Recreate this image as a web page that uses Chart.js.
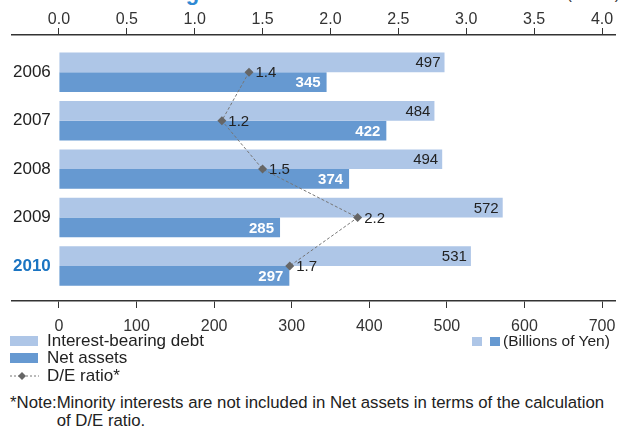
<!DOCTYPE html>
<html>
<head>
<meta charset="utf-8">
<script src="https://cdn.jsdelivr.net/npm/chart.js@4/dist/chart.umd.min.js"></script>
<style>
  body { margin: 0; width: 622px; height: 428px; overflow: hidden; position: relative; background: #fff;
         font-family: "Liberation Sans", Arial, sans-serif; color: #222; }
  #chart { position: absolute; left: 0; top: 0; }
  .title { position: absolute; left: 33px; top: -18px; font-size: 22px; line-height: 22px; font-weight: bold; color: #2f89d3; white-space: nowrap; }
  .times { position: absolute; right: 2px; top: -14px; font-size: 16px; line-height: 16px; color: #333; white-space: nowrap; }
  .lg { position: absolute; left: 47px; font-size: 17px; line-height: 18px; white-space: nowrap; }
  .sw { position: absolute; }
  .unit { position: absolute; left: 503px; top: 332px; font-size: 15.5px; line-height: 18px; white-space: nowrap; }
  .note { position: absolute; left: 10px; top: 394px; width: 610px; font-size: 16.8px; line-height: 18px; display: flex; }
  .note span { flex: none; }
  .note div { width: 552px; }
</style>
</head>
<body>
<div class="title">Interest-bearing Debt and Net Assets</div>
<div class="times">(Times)</div>
<canvas id="chart" width="622" height="348"></canvas>

<div class="sw" style="left:10px;top:336px;width:28px;height:10px;background:#aec6e7"></div>
<div class="lg" style="top:332px">Interest-bearing debt</div>
<div class="sw" style="left:10px;top:353px;width:28px;height:10px;background:#6699d1"></div>
<div class="lg" style="top:349px">Net assets</div>
<svg class="sw" style="left:10px;top:370px" width="30" height="12">
  <line x1="0" y1="6" x2="29" y2="6" stroke="#777" stroke-width="1" stroke-dasharray="2,2"/>
  <path d="M12 2 L16 6 L12 10 L8 6 Z" fill="#666"/>
</svg>
<div class="lg" style="top:367px">D/E ratio*</div>

<div class="sw" style="left:472px;top:337px;width:10px;height:9px;background:#aec6e7"></div>
<div class="sw" style="left:490px;top:337px;width:10px;height:9px;background:#6699d1"></div>
<div class="unit">(Billions of Yen)</div>

<div class="note"><span>*Note:</span><div>Minority interests are not included in Net assets in terms of the calculation of D/E ratio.</div></div>

<script>
const years       = ["2006", "2007", "2008", "2009", "2010"];
const debt        = [497, 484, 494, 572, 531];   // interest-bearing debt, billions of yen
const netAssets   = [345, 422, 374, 285, 297];
const deRatio     = [1.4, 1.2, 1.5, 2.2, 1.7];   // times
const yenTicks    = [0, 100, 200, 300, 400, 500, 600, 700];
const ratioTicks  = [0, 0.5, 1.0, 1.5, 2.0, 2.5, 3.0, 3.5, 4.0];

const LIGHT = "#aec6e7";
const DARK  = "#6699d1";
const FONT  = '"Liberation Sans", Arial, sans-serif';

Chart.defaults.font.family = FONT;
Chart.defaults.color = "#333";

// draws the numbers on the bars and next to the diamonds
const valueLabels = {
  id: "valueLabels",
  afterDatasetsDraw(chart) {
    const ctx = chart.ctx;
    ctx.save();
    ctx.textBaseline = "middle";

    ctx.textAlign = "right";
    ctx.font = "15px " + FONT;
    ctx.fillStyle = "#222";
    chart.getDatasetMeta(0).data.forEach((bar, i) => {
      ctx.fillText(debt[i], bar.x - 4, bar.y + 1);
    });

    ctx.font = "bold 15px " + FONT;
    ctx.fillStyle = "#fff";
    chart.getDatasetMeta(1).data.forEach((bar, i) => {
      ctx.fillText(netAssets[i], bar.x - 6, bar.y + 1);
    });

    ctx.textAlign = "left";
    ctx.font = "15px " + FONT;
    ctx.fillStyle = "#222";
    chart.getDatasetMeta(2).data.forEach((pt, i) => {
      ctx.fillText(deRatio[i].toFixed(1), pt.x + 6.5, pt.y + 1);
    });
    ctx.restore();
  }
};

const rows = years.map((y, i) => i);

new Chart(document.getElementById("chart"), {
  type: "bar",
  data: {
    datasets: [
      {
        label: "Interest-bearing debt",
        data: rows.map(i => ({ x: debt[i], y: i })),
        backgroundColor: LIGHT,
        categoryPercentage: 0.814,
        barPercentage: 1.0,
        order: 1
      },
      {
        label: "Net assets",
        data: rows.map(i => ({ x: netAssets[i], y: i })),
        backgroundColor: DARK,
        categoryPercentage: 0.814,
        barPercentage: 1.0,
        order: 1
      },
      {
        type: "line",
        label: "D/E ratio*",
        data: rows.map(i => ({ x: deRatio[i], y: i })),
        xAxisID: "x2",
        borderColor: "#777",
        borderWidth: 1,
        borderDash: [3, 2],
        pointStyle: "rectRot",
        pointRadius: 4.5,
        pointBackgroundColor: "#666",
        pointBorderWidth: 0,
        fill: false,
        tension: 0,
        order: 0
      }
    ]
  },
  options: {
    indexAxis: "y",
    responsive: false,
    animation: false,
    layout: { padding: { left: 10, right: 7, top: 12, bottom: 2 } },
    plugins: {
      legend: { display: false },
      tooltip: { enabled: false }
    },
    scales: {
      x: {
        type: "linear",
        position: "bottom",
        min: -60.48,
        max: 716.73,
        afterBuildTicks: axis => { axis.ticks = yenTicks.map(v => ({ value: v })); },
        grid: { drawOnChartArea: false, drawTicks: true, tickLength: 7, color: "#333" },
        border: { display: true, color: "#333", width: 1.5 },
        // tall line box instead of tick padding, so the right edge is not pulled in
        ticks: { font: { size: 16, lineHeight: 2.375 }, padding: 0, color: "#333" }
      },
      x2: {
        type: "linear",
        position: "top",
        min: -0.3456,
        max: 4.0956,
        afterBuildTicks: axis => { axis.ticks = ratioTicks.map(v => ({ value: v })); },
        grid: { drawOnChartArea: false, drawTicks: true, tickLength: 7, color: "#333" },
        border: { display: true, color: "#333", width: 1.5 },
        ticks: {
          font: { size: 16, lineHeight: 1 },
          padding: 0,
          color: "#333",
          callback: v => v.toFixed(1)
        }
      },
      y: {
        type: "linear",
        reverse: true,
        offset: false,
        min: -0.768,
        max: 4.722,
        afterBuildTicks: axis => { axis.ticks = rows.map(v => ({ value: v })); },
        grid: { display: false, drawTicks: false, offset: false },
        border: { display: false },
        ticks: {
          mirror: true,
          padding: 1,
          callback: v => years[v],
          color: c => (c.tick && c.tick.value === 4) ? "#1a74c2" : "#222",
          font: c => (c.tick && c.tick.value === 4)
            ? { size: 17, weight: "bold" }
            : { size: 17 }
        }
      }
    }
  },
  plugins: [valueLabels]
});
</script>
</body>
</html>
